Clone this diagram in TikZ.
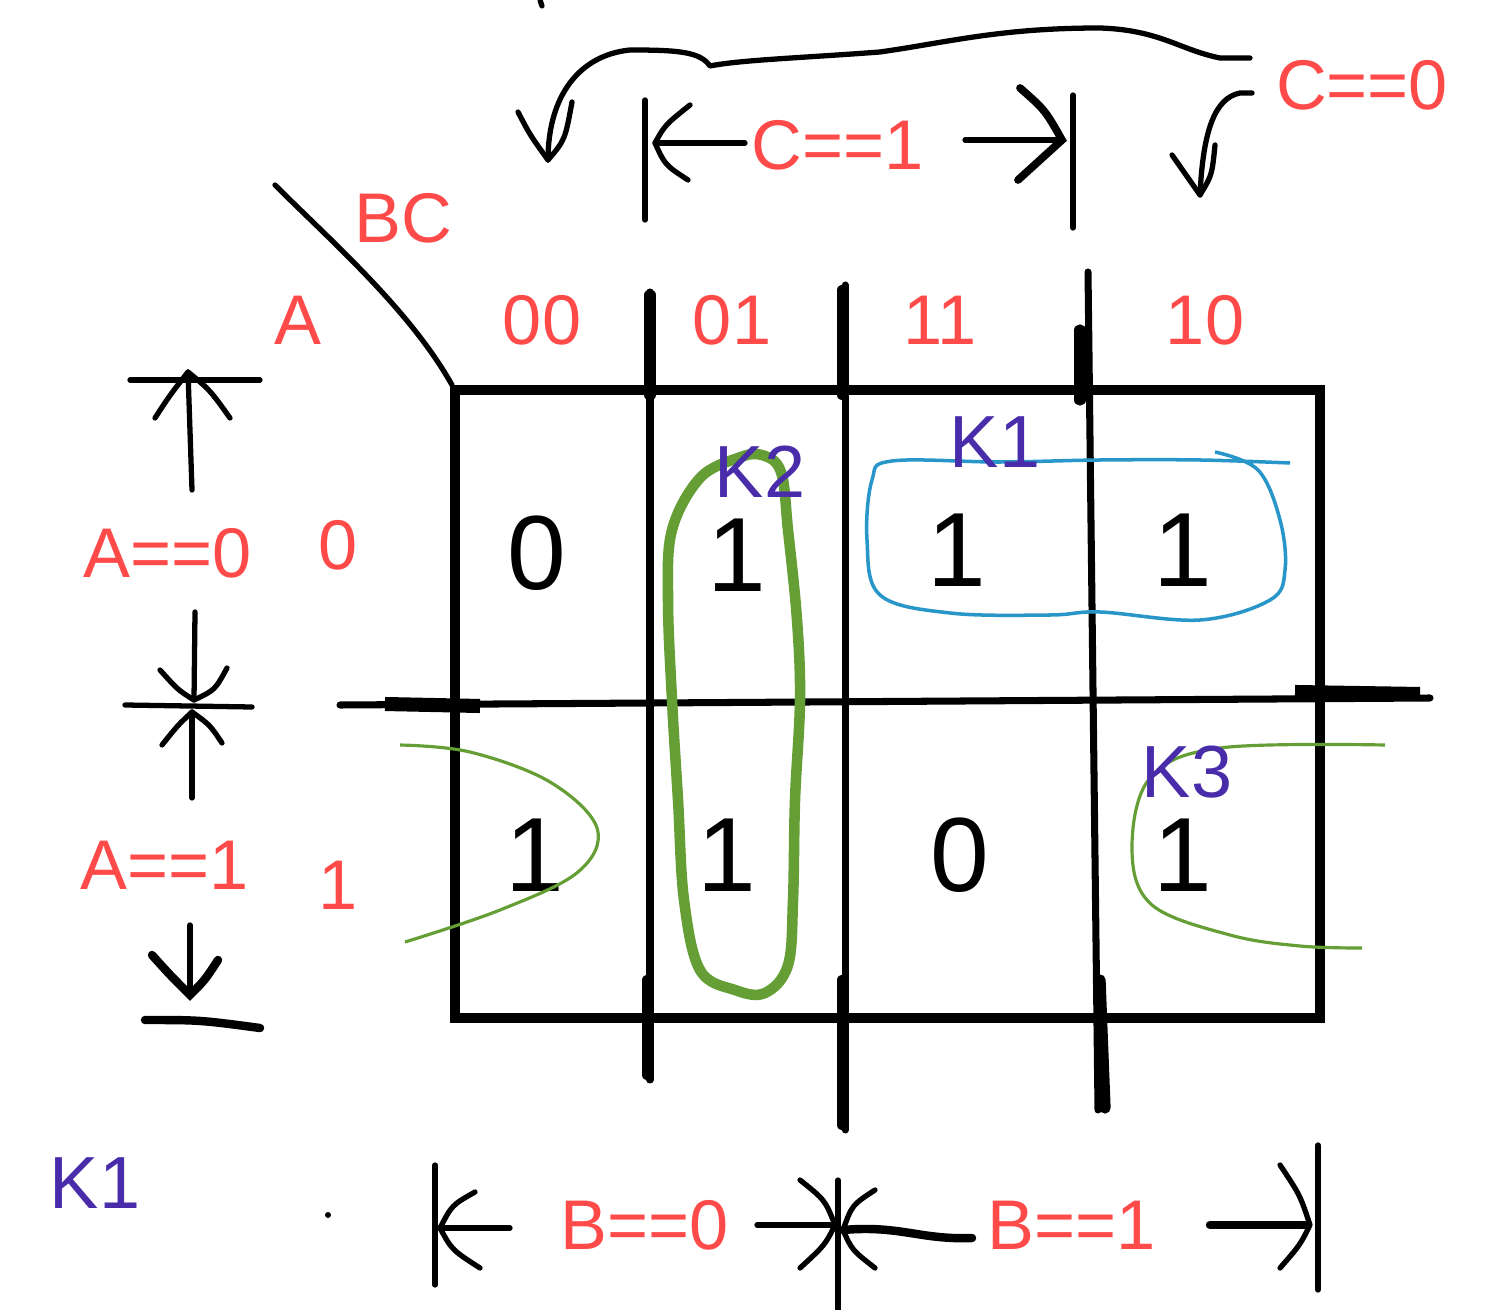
\documentclass[tikz,border=0pt]{standalone}
\usepackage{fontspec}
\setmainfont{Liberation Sans}
\usetikzlibrary{arrows.meta}
\definecolor{lred}{RGB}{255,74,74}
\definecolor{kpur}{RGB}{72,44,170}
\definecolor{kgreen}{RGB}{100,158,52}
\definecolor{kblue}{RGB}{40,150,200}
\tikzset{
  grid/.style={line width=3pt,line cap=round},
  inner/.style={line width=2pt,line cap=round},
  thick tick/.style={line width=3.2pt,line cap=round},
  ink/.style={line width=1.5pt,line cap=round,line join=round},
  lab/.style={text=lred,font=\fontsize{20}{20}\selectfont,inner sep=0pt},
  val/.style={font=\fontsize{30}{30}\selectfont,inner sep=0pt},
  kl/.style={text=kpur,font=\fontsize{21}{21}\selectfont,inner sep=0pt}
}
\begin{document}
\begin{tikzpicture}[x=0.01cm,y=-0.01cm]
\useasboundingbox (0,0) rectangle (1501,1310);
% grid
\draw[grid] (455,390) rectangle (1320,1018);
\draw[inner] (650,292) -- (650,1080);
\draw[inner] (845,285) -- (845,1130);
\draw[inner] (1088,272) -- (1098,1110);
\draw[inner] (340,705) -- (1430,698);
\draw[thick tick] (650,295) -- (650,395);
\draw[thick tick] (843,290) -- (843,395);
\draw[thick tick] (1080,330) -- (1080,400);
\draw[thick tick] (648,980) -- (648,1075);
\draw[thick tick] (843,980) -- (843,1125);
\draw[thick tick] (1100,980) -- (1105,1108);
\draw[line width=4pt] (385,704) -- (480,706);
\draw[line width=4pt] (1295,692) -- (1420,694);
% top bracket C==1
\draw[ink] (645,100) -- (645,220);
\draw[ink] (1073,95) -- (1073,228);
\draw[ink] (745,143) -- (655,143);
\draw[ink] (690,105) .. controls (665,125) .. (655,143) .. controls (665,165) .. (688,180);
\draw[ink] (965,140) -- (1062,140);
\draw[line width=2.2pt,line cap=round] (1020,88) .. controls (1045,110) .. (1062,140) .. controls (1040,160) .. (1018,180);
\node[lab] (c1) at (838,145) {C==1};
\node[lab] (c0) at (1362,85) {C==0};
% top curve arrow
\draw[ink] (1250,58) -- (1220,58) .. controls (1180,50) and (1160,30) .. (1100,28)
  .. controls (1000,28) and (950,42) .. (880,52) .. controls (800,58) and (740,60) .. (710,66)
  .. controls (700,52) and (680,50) .. (630,50) .. controls (580,55) and (548,95) .. (548,160);
\draw[ink] (518,112) .. controls (530,135) .. (548,160) .. controls (565,140) .. (572,102);
\draw[ink] (1252,93) -- (1240,93) .. controls (1215,98) and (1203,130) .. (1200,195);
\draw[ink] (1172,155) .. controls (1185,175) .. (1200,195) .. controls (1212,175) .. (1215,145);
% corner
\draw[ink] (275,185) .. controls (330,240) and (410,310) .. (452,385);
\node[lab] (bc) at (403,218) {BC};
\node[lab] (a) at (298,320) {A};
% column / row labels
\node[lab] (k00) at (542,320) {00};
\node[lab] (k01) at (732,320) {01};
\node[lab] (k11) at (940,320) {11};
\node[lab] (k10) at (1205,320) {10};
\node[lab] (r0) at (338,545) {0};
\node[lab] (r1) at (338,885) {1};
% left dimension
\node[lab] (a0) at (168,553) {A==0};
\node[lab] (a1) at (165,865) {A==1};
\draw[ink] (130,380) -- (260,380);
\draw[ink] (192,490) -- (188,372);
\draw[ink] (155,418) .. controls (170,395) .. (188,372) .. controls (210,390) .. (230,418);
\draw[ink] (125,705) -- (252,707);
\draw[ink] (195,612) -- (194,700);
\draw[ink] (160,670) .. controls (178,690) .. (194,700) .. controls (215,690) .. (227,668);
\draw[ink] (192,798) -- (192,712);
\draw[ink] (162,745) .. controls (178,725) .. (192,712) .. controls (210,725) .. (222,743);
\draw[ink] (190,925) -- (190,995);
\draw[line width=2.4pt,line cap=round] (152,955) .. controls (170,975) .. (190,995) .. controls (205,980) .. (218,960);
\draw[line width=2.4pt,line cap=round] (145,1020) .. controls (200,1020) .. (260,1028);
% cell values
\node[val] (v00) at (537,553) {0};
\node[val] (v01) at (737,555) {1};
\node[val] (v11) at (957,550) {1};
\node[val] (v10) at (1183,550) {1};
\node[val] (w00) at (535,855) {1};
\node[val] (w01) at (727,855) {1};
\node[val] (w11) at (960,855) {0};
\node[val] (w10) at (1183,855) {1};
% loops
\draw[kgreen,line width=3pt,line join=round] plot[smooth cycle,tension=0.6] coordinates {
 (762,455) (781,472) (788,530) (797,620) (800,700) (795,800) (793,900) (788,965)
 (765,993) (735,990) (700,970) (684,900) (678,800) (672,700) (668,600) (672,530) (700,478) (738,458)};
\draw[kblue,line width=1pt] plot[smooth,tension=0.6] coordinates {
 (1215,452) (1258,470) (1280,520) (1285,570) (1270,600) (1200,620) (1100,612) (1050,615)
 (950,613) (880,595) (867,540) (872,480) (892,461) (1000,462) (1100,460) (1200,460) (1290,463)};
\draw[kgreen,line width=0.9pt] plot[smooth,tension=0.6] coordinates {
 (400,745) (470,752) (550,782) (597,828) (578,872) (500,910) (405,942)};
\draw[kgreen,line width=0.9pt] plot[smooth,tension=0.6] coordinates {
 (1385,745) (1220,748) (1150,778) (1132,850) (1152,905) (1230,935) (1300,946) (1362,948)};
\node[kl] (k2) at (760,472) {K2};
\node[kl] (k1) at (995,442) {K1};
\node[kl] (k3) at (1187,772) {K3};
\node[kl] (k1b) at (95,1183) {K1};
% bottom dimension
\node[lab] (b0) at (645,1225) {B==0};
\node[lab] (b1) at (1072,1225) {B==1};
\draw[ink] (435,1165) -- (435,1285);
\draw[ink] (510,1228) -- (440,1228);
\draw[ink] (475,1192) .. controls (452,1205) .. (440,1228) .. controls (452,1250) .. (480,1268);
\draw[ink] (757,1225) -- (835,1225);
\draw[ink] (838,1180) -- (838,1310);
\draw[ink] (800,1180) .. controls (825,1200) .. (835,1225) .. controls (825,1245) .. (800,1268);
\draw[ink] (875,1190) .. controls (852,1205) .. (843,1230) .. controls (852,1250) .. (875,1268);
\draw[line width=2.4pt,line cap=round] (843,1230) .. controls (900,1225) and (920,1240) .. (972,1238);
\draw[line width=2.4pt,line cap=round] (1210,1225) -- (1305,1225);
\draw[ink] (1318,1145) -- (1318,1290);
\draw[ink] (1280,1165) .. controls (1300,1195) .. (1310,1225) .. controls (1300,1245) .. (1280,1268);
% small marks
\fill (328,1215) circle (3);
\draw[ink] (540,0) -- (542,6);
\end{tikzpicture}
\end{document}
